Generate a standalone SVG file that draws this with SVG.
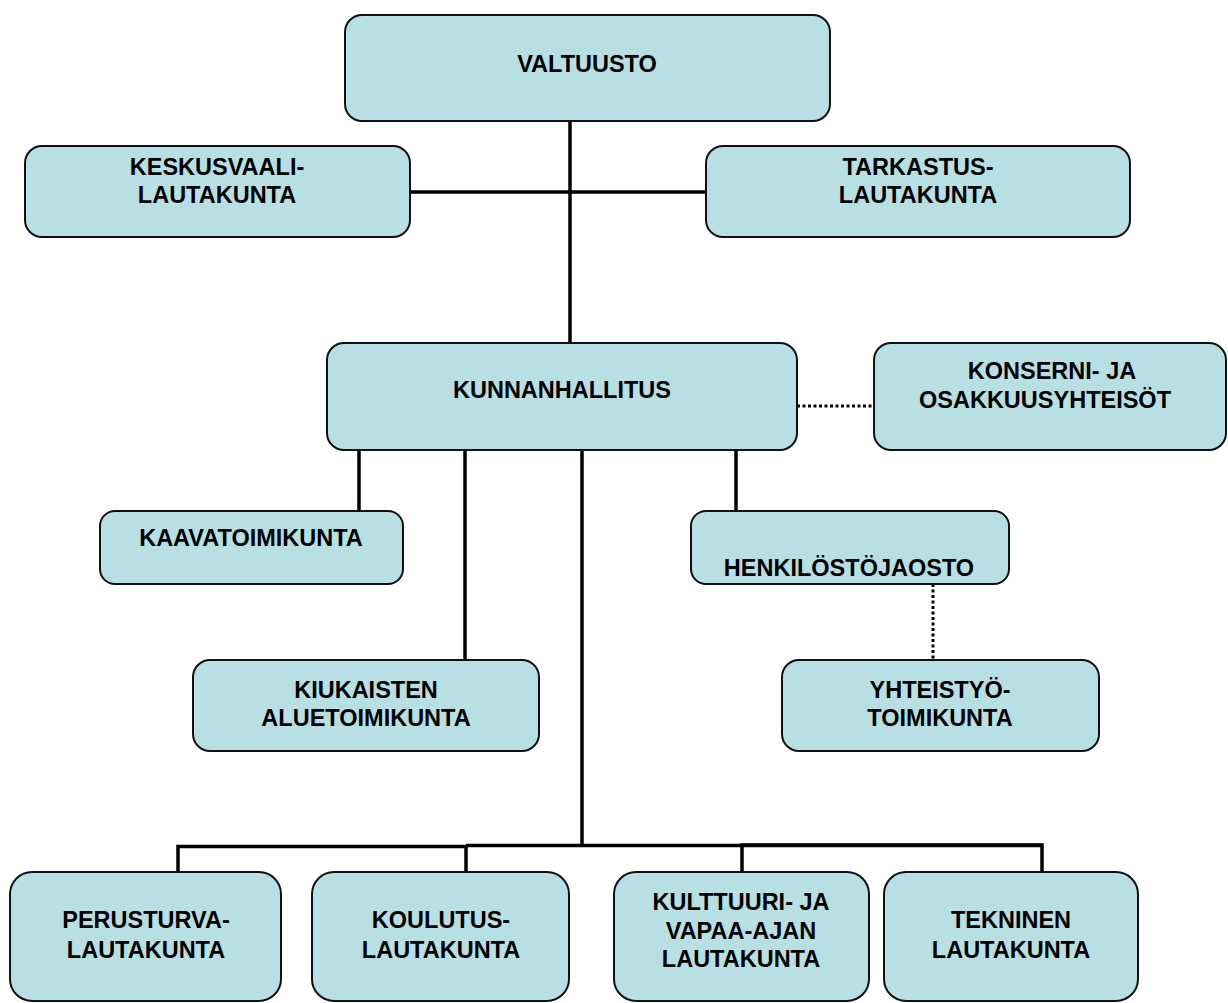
<svg xmlns="http://www.w3.org/2000/svg" width="1228" height="1003" viewBox="0 0 1228 1003">
<style>
.box{fill:#B8DFE3;stroke:#111;stroke-width:2}
.t{font-family:"Liberation Sans",Arial,sans-serif;font-weight:bold;font-size:23.5px;fill:#000;text-anchor:middle}
.ln{stroke:#000;stroke-width:3.5;fill:none}
.dot{stroke:#000;stroke-width:3;fill:none;stroke-dasharray:3 2.5}
</style>
<rect width="1228" height="1003" fill="#fff"/>
<g id="connectors">
<line class="ln" x1="570" y1="121" x2="570" y2="343"/>
<line class="ln" x1="410" y1="192" x2="706" y2="192"/>
<line class="ln" x1="359" y1="450" x2="359" y2="511"/>
<line class="ln" x1="465" y1="450" x2="465" y2="660"/>
<line class="ln" x1="582" y1="450" x2="582" y2="846"/>
<line class="ln" x1="736" y1="450" x2="736" y2="511"/>
<polyline class="ln" points="178,872 178,846.5 466,846.5 466,872"/>
<line class="ln" x1="466" y1="845.5" x2="1042" y2="845.5"/>
<polyline class="ln" points="742,872 742,845 1042,845 1042,872"/>
<line class="dot" x1="797" y1="406" x2="874" y2="406"/>
<line class="dot" x1="933" y1="584" x2="933" y2="660"/>
</g>
<g id="valtuusto"><rect class="box" x="345" y="15" width="485" height="106" rx="17"/><text class="t" x="587" y="72">VALTUUSTO</text></g>
<g id="keskusvaalilautakunta"><rect class="box" x="25" y="146" width="385" height="91" rx="17"/><text class="t" x="217" y="175">KESKUSVAALI-</text><text class="t" x="217" y="203">LAUTAKUNTA</text></g>
<g id="tarkastuslautakunta"><rect class="box" x="706" y="146" width="424" height="91" rx="17"/><text class="t" x="918" y="175">TARKASTUS-</text><text class="t" x="918" y="203">LAUTAKUNTA</text></g>
<g id="kunnanhallitus"><rect class="box" x="327" y="343" width="470" height="107" rx="17"/><text class="t" x="562" y="398">KUNNANHALLITUS</text></g>
<g id="konserni"><rect class="box" x="874" y="343" width="352" height="107" rx="17"/><text class="t" x="1052" y="379">KONSERNI- JA</text><text class="t" x="1045" y="408">OSAKKUUSYHTEISÖT</text></g>
<g id="kaavatoimikunta"><rect class="box" x="100" y="511" width="303" height="73" rx="15"/><text class="t" x="251" y="546">KAAVATOIMIKUNTA</text></g>
<g id="henkilostojaosto"><rect class="box" x="691" y="511" width="318" height="73" rx="15"/><text class="t" x="849" y="576">HENKILÖSTÖJAOSTO</text></g>
<g id="kiukaisten"><rect class="box" x="193" y="660" width="346" height="91" rx="17"/><text class="t" x="366" y="698">KIUKAISTEN</text><text class="t" x="366" y="726">ALUETOIMIKUNTA</text></g>
<g id="yhteistyotoimikunta"><rect class="box" x="782" y="660" width="317" height="91" rx="17"/><text class="t" x="940" y="698">YHTEISTYÖ-</text><text class="t" x="940" y="726">TOIMIKUNTA</text></g>
<g id="perusturva"><rect class="box" x="10" y="872" width="271" height="129" rx="22"/><text class="t" x="146" y="928">PERUSTURVA-</text><text class="t" x="146" y="958">LAUTAKUNTA</text></g>
<g id="koulutus"><rect class="box" x="312" y="872" width="257" height="129" rx="22"/><text class="t" x="441" y="928">KOULUTUS-</text><text class="t" x="441" y="958">LAUTAKUNTA</text></g>
<g id="kulttuuri"><rect class="box" x="614" y="872" width="255" height="129" rx="22"/><text class="t" x="741" y="910">KULTTUURI- JA</text><text class="t" x="741" y="939">VAPAA-AJAN</text><text class="t" x="741" y="967">LAUTAKUNTA</text></g>
<g id="tekninen"><rect class="box" x="884" y="872" width="254" height="129" rx="22"/><text class="t" x="1011" y="928">TEKNINEN</text><text class="t" x="1011" y="958">LAUTAKUNTA</text></g>
</svg>
